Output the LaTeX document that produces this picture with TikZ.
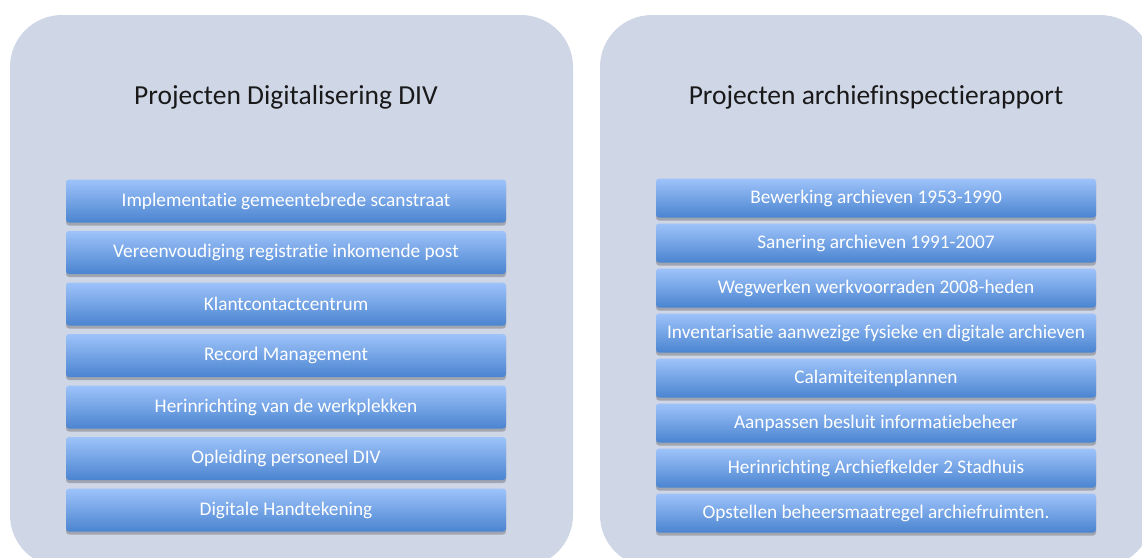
\documentclass[tikz,border=0pt]{standalone}
\usepackage{fontspec}
\setmainfont{Carlito}[Ligatures=NoCommon]
\usetikzlibrary{shadows}
\definecolor{panelfill}{HTML}{CFD6E6}
\definecolor{bartop}{HTML}{9EC3FA}
\definecolor{barbot}{HTML}{4A84D0}
\begin{document}
\begin{tikzpicture}[x=1pt,y=-1pt,
  panelbox/.style={rectangle, fill=panelfill, rounded corners=52pt, inner sep=0pt},
  titletext/.style={font=\fontsize{27.5}{32}\selectfont, text=black!90},
  barbox/.style={rectangle, rounded corners=3pt, top color=bartop, bottom color=barbot,
    minimum width=440pt, inner sep=0pt, text=white,
    font=\fontsize{19.3}{22}\selectfont,
    drop shadow={shadow xshift=0pt, shadow yshift=-3pt, opacity=0.35, fill=black!70}},
  lbar/.style={barbox, minimum height=43pt},
  rbar/.style={barbox, minimum height=39pt},
]
\useasboundingbox (0,0) rectangle (1142,557);
\clip (0,0) rectangle (1142,557);
\fill[white] (0,0) rectangle (1142,557);
\node[panelbox, minimum width=563pt, minimum height=552pt] (panelL) at (291.5,291) {};
\node[panelbox, minimum width=552pt, minimum height=552pt] (panelR) at (876,291) {};
\node[titletext] (titleL) at (286,97) {Projecten Digitalisering DIV};
\node[titletext] (titleR) at (876,97) {Projecten archiefinspectierapport};

\node[lbar] (l1) at (286,201) {Implementatie gemeentebrede scanstraat};
\node[lbar] (l2) at (286,252.5) {Vereenvoudiging registratie inkomende post};
\node[lbar] (l3) at (286,304) {Klantcontactcentrum};
\node[lbar] (l4) at (286,355.5) {Record Management};
\node[lbar] (l5) at (286,407) {Herinrichting van de werkplekken};
\node[lbar] (l6) at (286,458.5) {Opleiding personeel DIV};
\node[lbar] (l7) at (286,510) {Digitale Handtekening};

\node[rbar] (r1) at (876,198) {Bewerking archieven 1953-1990};
\node[rbar] (r2) at (876,243) {Sanering archieven 1991-2007};
\node[rbar] (r3) at (876,288) {Wegwerken werkvoorraden 2008-heden};
\node[rbar] (r4) at (876,333) {Inventarisatie aanwezige fysieke en digitale archieven};
\node[rbar] (r5) at (876,378) {Calamiteitenplannen};
\node[rbar] (r6) at (876,423) {Aanpassen besluit informatiebeheer};
\node[rbar] (r7) at (876,468) {Herinrichting Archiefkelder 2 Stadhuis};
\node[rbar] (r8) at (876,513) {Opstellen beheersmaatregel archiefruimten.};
\end{tikzpicture}
\end{document}
